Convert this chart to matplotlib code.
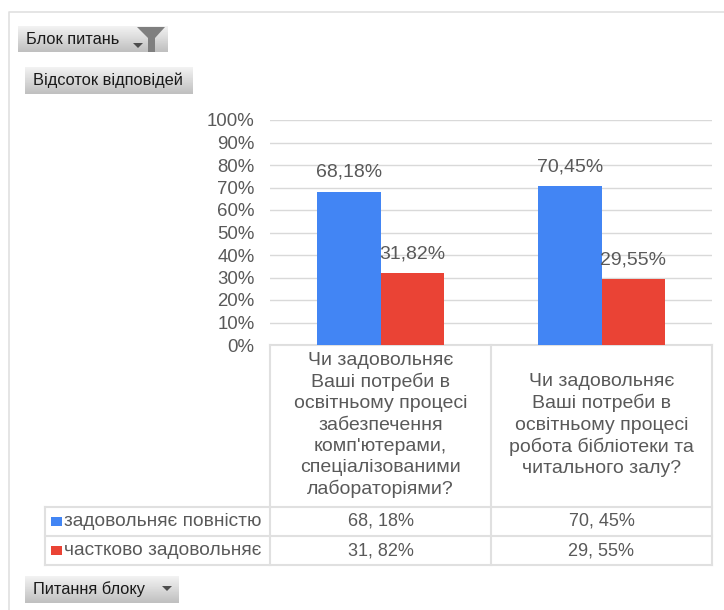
#!/usr/bin/env python3
import numpy as np
import matplotlib
matplotlib.use("Agg")
import matplotlib.pyplot as plt
import matplotlib.ticker as ticker
from matplotlib.patches import Polygon

plt.rcParams["font.family"] = ["Liberation Sans", "DejaVu Sans"]

W, H = 724, 610

CATEGORIES = [
    "Чи задовольняє\nВаші потреби в\nосвітньому процесі\nзабезпечення\nкомп'ютерами,\nспеціалізованими\nлабораторіями?",
    "Чи задовольняє\nВаші потреби в\nосвітньому процесі\nробота бібліотеки та\nчитального залу?",
]
SERIES_NAMES = ["задовольняє повністю", "частково задовольняє"]
FULL = [68.18, 70.45]
PARTIAL = [31.82, 29.55]
FULL_LABELS = ["68,18%", "70,45%"]
PARTIAL_LABELS = ["31,82%", "29,55%"]
TABLE_FULL = ["68, 18%", "70, 45%"]
TABLE_PARTIAL = ["31, 82%", "29, 55%"]

BLUE = "#4285f4"
RED = "#ea4335"
GRID = "#d9d9d9"
TEXT = "#595959"
LINE = "#e0e0e0"

fig = plt.figure(figsize=(W / 100, H / 100), dpi=100, facecolor="white")

# подложка в пикселях: рамка, кнопки, таблица
bg = fig.add_axes([0, 0, 1, 1])
bg.set_xlim(0, W)
bg.set_ylim(H, 0)
bg.axis("off")


def button(x0, y0, x1, y1, label):
    grad = np.linspace(0.95, 0.75, 32).reshape(-1, 1)
    bg.imshow(grad, extent=(x0, x1, y1, y0), cmap="gray", vmin=0, vmax=1,
              aspect="auto", zorder=1)
    bg.text(x0 + 8, (y0 + y1) / 2, label, fontsize=11.8, color="#1a1a1a",
            ha="left", va="center", zorder=3)


def arrow(cx, cy, size=5):
    bg.add_patch(Polygon([(cx - size, cy - 2), (cx + size, cy - 2), (cx, cy + 3)],
                         closed=True, fc="#4d4d4d", ec="none", zorder=3))


bg.plot([9, 9, W], [H, 12, 12], color=LINE, lw=1.2, zorder=0)

button(18, 26, 168, 52, "Блок питань")
arrow(138, 45, 5)
bg.add_patch(Polygon([(137, 27), (165, 27), (155, 38), (155, 52), (148, 52), (148, 38)],
                     closed=True, fc="#7f7f7f", ec="none", zorder=3))
button(25, 67, 193, 94, "Відсоток відповідей")
button(25, 576, 179, 603, "Питання блоку")
arrow(167, 588, 5)

# таблица под графиком
col_x = [270, 491, 712]
row_y = [345, 507, 536, 565]
for y in row_y[:1]:
    bg.plot([col_x[0], col_x[2]], [y, y], color=LINE, lw=1.5, zorder=1)
for y in row_y[1:]:
    bg.plot([45, col_x[2]], [y, y], color=LINE, lw=1.5, zorder=1)
for x in col_x:
    bg.plot([x, x], [row_y[0], row_y[3]], color=LINE, lw=1.5, zorder=1)
bg.plot([45, 45], [row_y[1], row_y[3]], color=LINE, lw=1.5, zorder=1)

for i, cat in enumerate(CATEGORIES):
    cx = (col_x[i] + col_x[i + 1]) / 2
    bg.text(cx, (row_y[0] + row_y[1]) / 2 - 1, cat, fontsize=14, color=TEXT, ha="center",
            va="center", linespacing=1.31, zorder=3)
    bg.text(cx, (row_y[1] + row_y[2]) / 2, TABLE_FULL[i], fontsize=13, color=TEXT,
            ha="center", va="center", zorder=3)
    bg.text(cx, (row_y[2] + row_y[3]) / 2, TABLE_PARTIAL[i], fontsize=13, color=TEXT,
            ha="center", va="center", zorder=3)

for j, (name, color) in enumerate(zip(SERIES_NAMES, [BLUE, RED])):
    cy = (row_y[j + 1] + row_y[j + 2]) / 2
    bg.fill_between([51, 62], cy - 5, cy + 4, color=color, lw=0, zorder=3)
    bg.text(64, cy, name, fontsize=13.8, color=TEXT, ha="left", va="center", zorder=3)

# сам график
ax = fig.add_axes([270 / W, 1 - 345 / H, 442 / W, 225 / H])
ax.patch.set_alpha(0)
pos = np.arange(len(CATEGORIES))
bw = 63.5 / 221
ax.bar(pos - bw / 2, FULL, bw, color=BLUE, zorder=3)
ax.bar(pos + bw / 2, PARTIAL, bw, color=RED, zorder=3)

for i in pos:
    ax.annotate(FULL_LABELS[i], (i - bw / 2, FULL[i]), xytext=(0, 8),
                textcoords="offset points", ha="center", va="bottom",
                fontsize=14, color=TEXT, zorder=4)
    ax.annotate(PARTIAL_LABELS[i], (i + bw / 2, PARTIAL[i]), xytext=(0, 7.5),
                textcoords="offset points", ha="center", va="bottom",
                fontsize=14, color=TEXT, zorder=4)

ax.set_xlim(-0.5, 1.5)
ax.set_ylim(0, 100)
ax.yaxis.set_major_locator(ticker.MultipleLocator(10))
ax.yaxis.set_major_formatter(ticker.FuncFormatter(lambda v, _: f"{v:.0f}%"))
ax.set_xticks([])
ax.grid(axis="y", color=GRID, lw=1, zorder=0)
ax.set_axisbelow(True)
ax.tick_params(axis="y", length=0, pad=11, labelsize=13.4, labelcolor=TEXT)
for spine in ax.spines.values():
    spine.set_visible(False)

fig.savefig("out.png", dpi=100)
